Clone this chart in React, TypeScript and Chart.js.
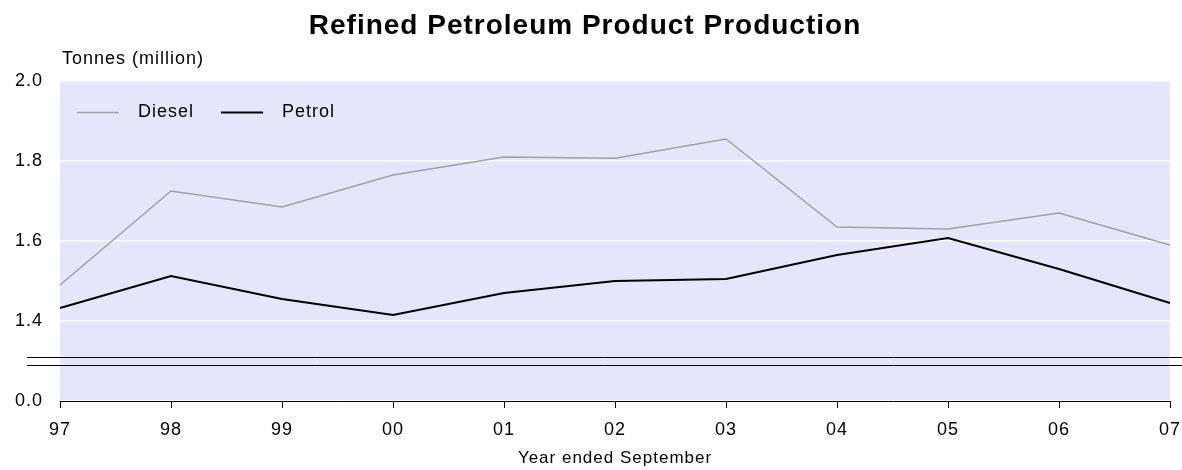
import React, { useEffect, useRef } from 'react';
import { Chart, registerables } from 'chart.js';

Chart.register(...registerables);

// ---- data ----
const years = ['97', '98', '99', '00', '01', '02', '03', '04', '05', '06', '07'];
const diesel = [1.49, 1.725, 1.685, 1.765, 1.81, 1.807, 1.855, 1.635, 1.63, 1.67, 1.59];
const petrol = [1.4325, 1.5125, 1.455, 1.415, 1.47, 1.5, 1.505, 1.565, 1.6075, 1.53, 1.445];
const yTickValues = [1.2, 1.4, 1.6, 1.8, 2.0];
const yTickLabels = ['0.0', '1.4', '1.6', '1.8', '2.0'];
const breakValues = [1.31, 1.29];
const titleText = 'Refined Petroleum Product Production';
const yUnitText = 'Tonnes (million)';
const xTitleText = 'Year ended September';

const FONT = '"Liberation Sans", Arial, sans-serif';
const PLOT_BG = '#E6E6FA';

const spacingPlugin = {
  id: 'letterSpacing',
  beforeLayout(chart: any) {
    chart.ctx.letterSpacing = '1px';
  },
  beforeDraw(chart: any) {
    chart.ctx.letterSpacing = '1px';
  },
};

const backgroundPlugin = {
  id: 'plotBg',
  beforeDraw(chart: any) {
    const { ctx, chartArea } = chart;
    ctx.save();
    ctx.fillStyle = PLOT_BG;
    ctx.fillRect(chartArea.left, chartArea.top, chartArea.right - chartArea.left, chartArea.bottom - chartArea.top);
    ctx.restore();
  },
};

const extrasPlugin = {
  id: 'extras',
  afterDatasetsDraw(chart: any) {
    const { ctx, chartArea, scales } = chart;
    const y = scales.y;
    ctx.save();
    // axis break lines
    ctx.strokeStyle = '#000';
    ctx.lineWidth = 1;
    breakValues.forEach((v) => {
      const py = Math.round(y.getPixelForValue(v)) + 0.5;
      ctx.beginPath();
      ctx.moveTo(27, py);
      ctx.lineTo(chart.width, py);
      ctx.stroke();
    });
    // legend inside plot
    ctx.font = '18px ' + FONT;
    ctx.letterSpacing = '1px';
    ctx.textBaseline = 'middle';
    ctx.textAlign = 'left';
    let x = chartArea.left + 17;
    const ly = chartArea.top + 31;
    chart.data.datasets.forEach((ds: any) => {
      ctx.strokeStyle = ds.borderColor;
      ctx.lineWidth = ds.borderWidth;
      ctx.beginPath();
      ctx.moveTo(x, ly + 0.5);
      ctx.lineTo(x + 42, ly + 0.5);
      ctx.stroke();
      ctx.fillStyle = '#000';
      ctx.fillText(ds.label, x + 61, ly);
      x += 61 + ctx.measureText(ds.label).width + 27;
    });
    // unit label
    ctx.fillText(yUnitText, chartArea.left + 2, chartArea.top - 22);
    ctx.restore();
  },
};

export default function App() {
  const canvasRef = useRef<HTMLCanvasElement | null>(null);

  useEffect(() => {
    const canvas = canvasRef.current;
    if (!canvas) return;
    const chart = new Chart(canvas, {
      type: 'line',
      data: {
        labels: years,
        datasets: [
          {
            label: 'Diesel',
            data: diesel,
            borderColor: '#A0A0A0',
            backgroundColor: '#A0A0A0',
            borderWidth: 1.5,
            pointRadius: 0,
            tension: 0,
          },
          {
            label: 'Petrol',
            data: petrol,
            borderColor: '#000000',
            backgroundColor: '#000000',
            borderWidth: 2,
            pointRadius: 0,
            tension: 0,
          },
        ],
      },
      options: {
        animation: false,
        responsive: false,
        maintainAspectRatio: false,
        layout: { padding: { left: 0, right: 12, top: 0, bottom: 0 } },
        plugins: {
          legend: { display: false },
          tooltip: { enabled: false },
          title: {
            display: true,
            text: titleText,
            color: '#000',
            font: { family: FONT, size: 28, weight: 'bold', lineHeight: 1.2 },
            padding: { top: 9, bottom: 38.4 },
          },
        },
        scales: {
          x: {
            type: 'category',
            offset: false,
            grid: {
              drawOnChartArea: false,
              drawTicks: true,
              tickLength: 7,
              color: '#000',
            },
            border: { display: true, color: '#000', width: 1 },
            ticks: {
              color: '#000',
              font: { family: FONT, size: 18 },
              padding: 11,
              maxRotation: 0,
              autoSkip: false,
            },
            title: {
              display: true,
              text: xTitleText,
              color: '#000',
              font: { family: FONT, size: 17 },
              padding: { top: 0, bottom: 1 },
            },
            afterFit(scale: any) {
              scale.height = 69;
              scale.paddingLeft = 0;
              scale.paddingRight = 0;
            },
          },
          y: {
            type: 'linear',
            min: 1.2,
            max: 2.0,
            grid: {
              color: '#FFFFFF',
              lineWidth: 1.5,
              drawTicks: false,
            },
            border: { display: false },
            afterBuildTicks(scale: any) {
              scale.ticks = yTickValues.map((v) => ({ value: v }));
            },
            ticks: {
              color: '#000',
              font: { family: FONT, size: 18 },
              padding: 17,
              callback: (_v: any, i: number) => yTickLabels[i],
            },
            afterFit(scale: any) {
              scale.width = 60;
              scale.paddingTop = 0;
              scale.paddingBottom = 0;
            },
          },
        },
      },
      plugins: [spacingPlugin, backgroundPlugin, extrasPlugin],
    });
    return () => chart.destroy();
  }, []);

  return (
    <div style={{ position: 'fixed', left: 0, top: 0, width: 1182, height: 470, background: '#fff' }}>
      <canvas ref={canvasRef} width={1182} height={470} style={{ display: 'block', width: 1182, height: 470 }} />
    </div>
  );
}
